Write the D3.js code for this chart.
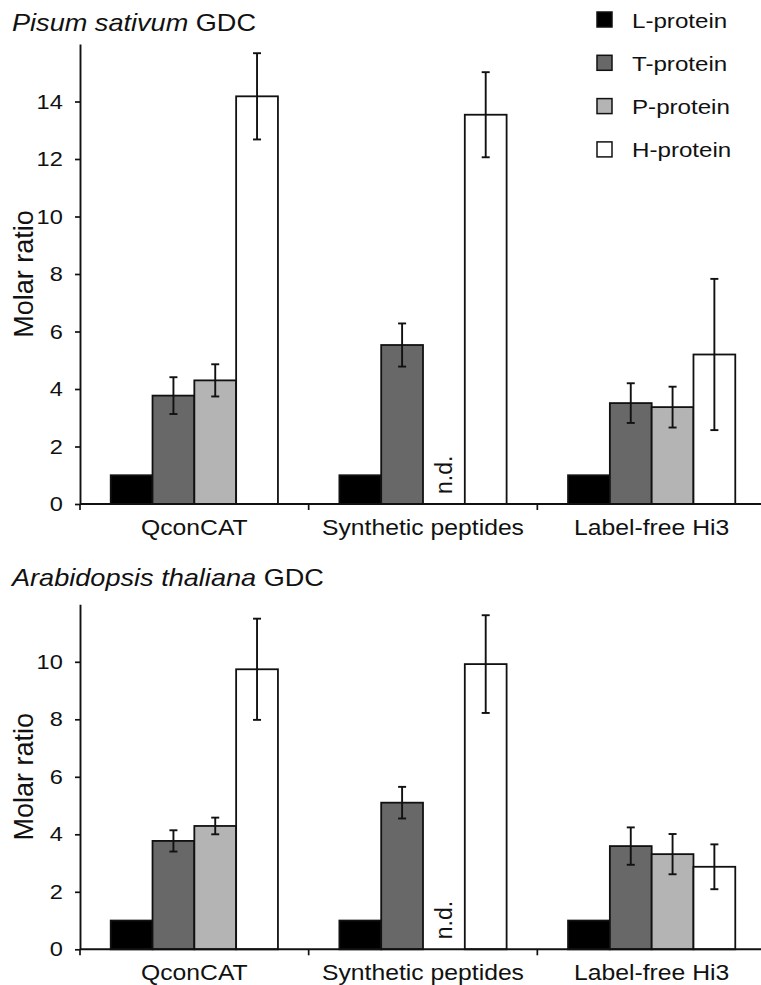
<!DOCTYPE html>
<html>
<head>
<meta charset="utf-8">
<script src="https://cdn.jsdelivr.net/npm/d3@7"></script>
<style>
  body { margin: 0; background: #fff; }
  text { font-family: "Liberation Sans", Arial, sans-serif; fill: #111; }
</style>
</head>
<body>
<script>
var width = 761, height = 985;

var methods = ["QconCAT", "Synthetic peptides", "Label-free Hi3"];
var proteins = ["L-protein", "T-protein", "P-protein", "H-protein"];
var colors = ["#000000", "#686868", "#b4b4b4", "#ffffff"];

// means and SD per method, order L, T, P, H (null = n.d.)
var pisumMeans = [[1, 3.77, 4.30, 14.18], [1, 5.53, null, 13.54], [1, 3.51, 3.37, 5.20]];
var pisumErr   = [[0, 0.64, 0.56, 1.50],  [0, 0.75, null, 1.48],  [0, 0.69, 0.71, 2.63]];
var arabMeans  = [[1, 3.77, 4.29, 9.74],  [1, 5.10, null, 9.92],  [1, 3.59, 3.31, 2.87]];
var arabErr    = [[0, 0.37, 0.29, 1.76],  [0, 0.55, null, 1.70],  [0, 0.65, 0.70, 0.78]];

var pisumTicks = [0, 2, 4, 6, 8, 10, 12, 14];
var arabTicks = [0, 2, 4, 6, 8, 10];

var hs = 1.15; // the figure text is a bit wide

var svg = d3.select('body').append('svg')
  .attr('width', width)
  .attr('height', height);

var x0 = d3.scaleBand().domain(methods).range([80, 766]).paddingInner(0).paddingOuter(0);
var x1 = d3.scaleBand().domain(proteins).range([0, x0.bandwidth()]).paddingInner(0).paddingOuter(0.735);

function panel(opt) {
  var y = d3.scaleLinear().domain([0, opt.max]).range([opt.bottom, opt.top]);
  var g = svg.append('g');

  // title
  var t = g.append('text')
    .attr('transform', 'translate(12,' + opt.titleY + ') scale(1.13,1)')
    .style('font-size', '24px');
  t.append('tspan').style('font-style', 'italic').text(opt.species);
  t.append('tspan').text(' GDC');

  // bars
  var rows = [];
  methods.forEach(function(m, i) {
    proteins.forEach(function(p, j) {
      rows.push({method: m, protein: p, color: colors[j], v: opt.means[i][j], e: opt.err[i][j]});
    });
  });

  g.selectAll('rect.bar').data(rows.filter(function(d) { return d.v !== null; }))
    .enter().append('rect')
      .attr('class', 'bar')
      .attr('x', function(d) { return x0(d.method) + x1(d.protein); })
      .attr('y', function(d) { return y(d.v); })
      .attr('width', x1.bandwidth())
      .attr('height', function(d) { return y(0) - y(d.v); })
      .attr('fill', function(d) { return d.color; })
      .attr('stroke', '#111')
      .attr('stroke-width', 1.8);

  // error bars
  var errs = g.selectAll('g.err').data(rows.filter(function(d) { return d.v !== null && d.e > 0; }))
    .enter().append('g')
      .attr('class', 'err')
      .attr('transform', function(d) { return 'translate(' + (x0(d.method) + x1(d.protein) + x1.bandwidth() / 2) + ',0)'; })
      .attr('stroke', '#111')
      .attr('stroke-width', 1.9);
  errs.append('line').attr('y1', function(d) { return y(d.v + d.e); }).attr('y2', function(d) { return y(d.v - d.e); });
  errs.append('line').attr('x1', -4).attr('x2', 4).attr('y1', function(d) { return y(d.v + d.e); }).attr('y2', function(d) { return y(d.v + d.e); });
  errs.append('line').attr('x1', -4).attr('x2', 4).attr('y1', function(d) { return y(d.v - d.e); }).attr('y2', function(d) { return y(d.v - d.e); });

  // n.d. labels
  g.selectAll('text.nd').data(rows.filter(function(d) { return d.v === null; }))
    .enter().append('text')
      .attr('class', 'nd')
      .attr('transform', function(d) {
        return 'translate(' + (x0(d.method) + x1(d.protein) + x1.bandwidth() / 2 + 8) + ',' + (y(0) - 10) + ') rotate(-90)';
      })
      .style('font-size', '23px')
      .text('n.d.');

  // y axis
  var yAxis = d3.axisLeft(y).tickValues(opt.ticks).tickSize(5).tickSizeOuter(0).tickPadding(10);
  var ya = g.append('g').attr('transform', 'translate(80,0)').call(yAxis);
  ya.select('.domain').attr('stroke', '#111').attr('stroke-width', 1.9);
  ya.selectAll('.tick line').attr('stroke', '#111').attr('stroke-width', 1.7);
  ya.selectAll('.tick text')
    .attr('transform', 'scale(' + hs + ',1)')
    .attr('fill', '#111')
    .style('font-size', '20.5px')
    .style('font-family', '"Liberation Sans", Arial, sans-serif');

  // x axis with ticks between groups
  var xa = g.append('g');
  xa.append('line')
    .attr('x1', x0.range()[0]).attr('x2', x0.range()[1])
    .attr('y1', y(0)).attr('y2', y(0))
    .attr('stroke', '#111').attr('stroke-width', 1.9);
  xa.selectAll('line.xt').data(methods)
    .enter().append('line')
      .attr('class', 'xt')
      .attr('x1', function(d) { return x0(d); }).attr('x2', function(d) { return x0(d); })
      .attr('y1', y(0)).attr('y2', y(0) + 6)
      .attr('stroke', '#111').attr('stroke-width', 1.7);
  xa.selectAll('text').data(methods)
    .enter().append('text')
      .attr('transform', function(d) { return 'translate(' + (x0(d) + x0.bandwidth() / 2) + ',' + (y(0) + 31) + ') scale(' + hs + ',1)'; })
      .attr('text-anchor', 'middle')
      .style('font-size', '21.5px')
      .text(function(d) { return d; });

  // y label
  g.append('text')
    .attr('transform', 'translate(33,' + ((opt.top + opt.bottom) / 2) + ') rotate(-90)')
    .attr('text-anchor', 'middle')
    .style('font-size', '27px')
    .text('Molar ratio');
}

panel({species: 'Pisum sativum', titleY: 31, means: pisumMeans, err: pisumErr, max: 16, top: 44, bottom: 504, ticks: pisumTicks});
panel({species: 'Arabidopsis thaliana', titleY: 586, means: arabMeans, err: arabErr, max: 12, top: 604.3, bottom: 949.3, ticks: arabTicks});

// legend
var leg = svg.selectAll('g.legend').data(proteins)
  .enter().append('g')
    .attr('class', 'legend')
    .attr('transform', function(d, i) { return 'translate(597,' + (12 + i * 43.3) + ')'; });
leg.append('rect')
  .attr('width', 15).attr('height', 15)
  .attr('fill', function(d, i) { return colors[i]; })
  .attr('stroke', '#111').attr('stroke-width', 1.5);
leg.append('text')
  .attr('transform', 'translate(35,15.5) scale(' + hs + ',1)')
  .style('font-size', '21px')
  .text(function(d) { return d; });
</script>
</body>
</html>
